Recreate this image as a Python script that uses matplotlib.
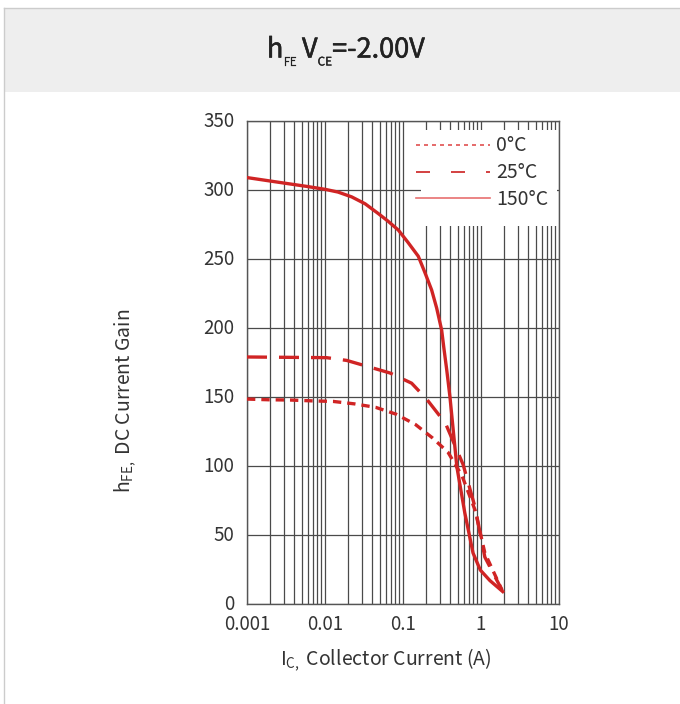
import matplotlib
matplotlib.use('Agg')
import matplotlib.pyplot as plt
import matplotlib.patheffects as pe
from matplotlib.lines import Line2D
from matplotlib.patches import Rectangle
from matplotlib.ticker import LogLocator, NullFormatter
from matplotlib.transforms import ScaledTranslation

plt.rcParams['font.family'] = ['Noto Sans CJK SC', 'DejaVu Sans']
plt.rcParams['mathtext.fontset'] = 'custom'
plt.rcParams['mathtext.rm'] = 'Noto Sans CJK SC'
plt.rcParams['mathtext.it'] = 'Noto Sans CJK SC'
plt.rcParams['mathtext.bf'] = 'Noto Sans CJK SC'

# values
ic_0c = [0.001, 0.00188, 0.0036, 0.0068, 0.0127, 0.024, 0.0446, 0.082, 0.145,
         0.237, 0.377, 0.57, 0.84, 1.12, 1.86]
hfe_0c = [148.5, 148, 147.8, 147.2, 146.8, 145, 142.5, 137.5, 130,
          120.5, 110, 93, 68, 37, 10]

ic_25c = [0.001, 0.0105, 0.019, 0.0378, 0.068, 0.129, 0.2, 0.35, 0.59,
          0.84, 1.12, 1.86]
hfe_25c = [179, 178.5, 176.5, 171.6, 167.4, 160, 148.6, 131, 101,
           70, 34, 10]

ic_150c = [0.001, 0.003, 0.006, 0.01, 0.0147, 0.022, 0.0327, 0.048, 0.064,
           0.087, 0.116, 0.157, 0.19, 0.233, 0.27, 0.313, 0.335, 0.363,
           0.40, 0.49, 0.62, 0.79, 0.98, 1.3, 1.9]
hfe_150c = [309, 305, 302.5, 300.5, 298.5, 295, 290, 283, 277.5,
            271, 262, 252, 240.5, 227.5, 214.5, 198.5, 185, 170,
            150, 99.5, 66, 37, 24.6, 17, 9]

x_ticks = [0.001, 0.01, 0.1, 1, 10]
x_tick_labels = ['0.001', '0.01', '0.1', '1', '10']
y_ticks = [0, 50, 100, 150, 200, 250, 300, 350]
legend_labels = ['0°C', '25°C', '150°C']
title_parts = [('h', False), ('FE', True), ('V', False), ('CE', True), ('=-2.00V', False)]

RED = '#d02424'
TXT = '#333333'
TITLE = '#222222'

fig = plt.figure(figsize=(6.8, 7.04), dpi=100)

# card header band and borders
fig.patches.append(Rectangle((4 / 680, 1 - 92 / 704), 676 / 680, 84 / 704,
                             transform=fig.transFigure, facecolor='#eeeeee',
                             edgecolor='none', zorder=0))
fig.add_artist(Line2D([4 / 680, 1], [1 - 8 / 704, 1 - 8 / 704], color='#cccccc', lw=1))
fig.add_artist(Line2D([4 / 680, 4 / 680], [0, 1 - 8 / 704], color='#cccccc', lw=1))

# title built piece by piece so the subscripts can be small and low;
# a thin stroke gives the medium weight of the original
renderer = fig.canvas.get_renderer()
pieces = []
for s, sub in title_parts:
    stroke = [pe.withStroke(linewidth=0.15 if sub else 0.4, foreground=TITLE)]
    t = fig.text(0, 0, s, fontsize=8.5 if sub else 19.5, color=TITLE,
                 ha='left', va='baseline', path_effects=stroke)
    w = t.get_window_extent(renderer).width
    pieces.append((t, sub, w))
gap = 5
total = sum(w for _, _, w in pieces) + gap
x = 346 - total / 2
for t, sub, w in pieces:
    y = 57.5 + (8 if sub else 0)
    t.set_position((x / 680, 1 - y / 704))
    x += w + (gap if t.get_text() == 'FE' else 0)

ax = fig.add_axes([247 / 680, 100 / 704, 312 / 680, 483 / 704])
ax.set_xscale('log')
ax.set_xlim(0.001, 10)
ax.set_ylim(0, 350)

ax.plot(ic_0c, hfe_0c, color=RED, lw=2.4, dashes=(2.5, 1.8), zorder=3)
ax.plot(ic_25c, hfe_25c, color=RED, lw=2.4, dashes=(6, 3.6), zorder=3)
ax.plot(ic_150c, hfe_150c, color=RED, lw=2.4, zorder=3)

ax.set_xticks(x_ticks, labels=x_tick_labels)
ax.xaxis.set_minor_locator(LogLocator(base=10, subs=range(2, 10)))
ax.xaxis.set_minor_formatter(NullFormatter())
ax.set_yticks(y_ticks)
ax.tick_params(which='both', length=0, labelsize=13.5, labelcolor=TXT)
ax.tick_params(axis='y', pad=9)
ax.tick_params(axis='x', pad=7)
lift = ScaledTranslation(0, 2 / 100, fig.dpi_scale_trans)
for lab in ax.get_yticklabels():
    lab.set_transform(lab.get_transform() + lift)

ax.set_axisbelow(True)
ax.grid(True, which='both', axis='x', color='#4a4a4a', lw=0.9)
ax.grid(True, which='major', axis='y', color='#4a4a4a', lw=0.9)
for sp in ax.spines.values():
    sp.set_color('#555555')
    sp.set_linewidth(1)

# white box behind the legend
ax.add_patch(Rectangle((0.558, 0.783), 0.436, 0.198, transform=ax.transAxes,
                       facecolor='white', edgecolor='none', zorder=1))
handles = [
    Line2D([], [], color='#e05050', lw=1.2, dashes=(2.4, 2.4)),
    Line2D([], [], color='#cc2020', lw=1.2, dashes=(8.4, 12.6)),
    Line2D([], [], color='#e87070', lw=1.2),
]
ax.legend(handles, legend_labels, loc='upper left', bbox_to_anchor=(0.542, 0.970),
          frameon=False, borderpad=0, borderaxespad=0, handlelength=3.8,
          handletextpad=0.3, labelspacing=0.3, fontsize=14, labelcolor=TXT)

fig.text(386 / 680, 1 - 660 / 704, r'$\mathrm{I_{C,}}$ Collector Current (A)',
         ha='center', va='center', fontsize=14, color=TXT)
fig.text(125 / 680, 1 - 401 / 704, r'$\mathrm{h_{FE,}}$ DC Current Gain',
         ha='center', va='center', rotation=90, fontsize=14, color=TXT)

fig.savefig('out.png', dpi=100)
